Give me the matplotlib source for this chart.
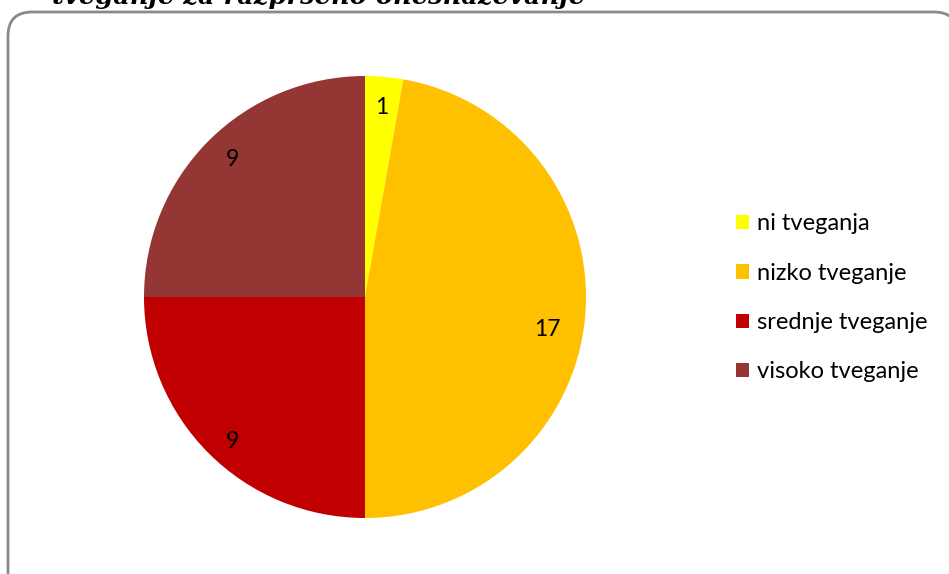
import numpy as np
import matplotlib.pyplot as plt
from matplotlib.patches import FancyBboxPatch

# stopnje tveganja in število lokacij
kategorije = ["ni tveganja", "nizko tveganje", "srednje tveganje", "visoko tveganje"]
vrednosti = [1, 17, 9, 9]
barve = ["#FFFF00", "#FFC000", "#C00000", "#943634"]

naslov = "tveganje za razpršeno onesnaževanje"

plt.rcParams['font.family'] = ['Lato', 'DejaVu Sans']

W, H = 949, 574
fig = plt.figure(figsize=(W / 100, H / 100), dpi=100)

# ozadje z zaobljenim okvirjem grafa
bg = fig.add_axes([0, 0, 1, 1])
bg.set_xlim(0, W)
bg.set_ylim(H, 0)
bg.axis("off")
okvir = FancyBboxPatch((8, 12), 950, 600, boxstyle="round,pad=0,rounding_size=24",
                       edgecolor="#8a8a8a", facecolor="white", lw=2.0)
bg.add_patch(okvir)
bg.text(52, 4, naslov, fontsize=18.5, fontweight="bold", fontstyle="italic",
        family=["DejaVu Serif"], ha="left", va="baseline")

# tortni graf
cx, cy, r = 365, 297, 221
ax = fig.add_axes([(cx - r) / W, (H - cy - r) / H, 2 * r / W, 2 * r / H])
wedges, _, oznake = ax.pie(vrednosti, colors=barve, startangle=90, counterclock=False,
                           autopct=lambda p: "%d" % round(p * sum(vrednosti) / 100),
                           pctdistance=0.86, radius=1,
                           textprops=dict(fontsize=16.5, color="black"))
# rahli zamiki oznak izsekov
zamiki = [(0, 0), (-0.03, -0.07), (0.01, -0.045), (0.01, 0.015)]
for t, (dx, dy) in zip(oznake, zamiki):
    x, y = t.get_position()
    t.set_position((x + dx, y + dy))
ax.set_xlim(-1, 1)
ax.set_ylim(-1, 1)
ax.set_aspect("equal")

fig.legend(wedges, kategorije, loc="center left", bbox_to_anchor=(736 / W, 1 - 298 / H),
           frameon=False, fontsize=17, handlelength=0.55, handleheight=0.55,
           handletextpad=0.34, labelspacing=1.2, borderpad=0, borderaxespad=0)

fig.savefig("out.png", dpi=100)
